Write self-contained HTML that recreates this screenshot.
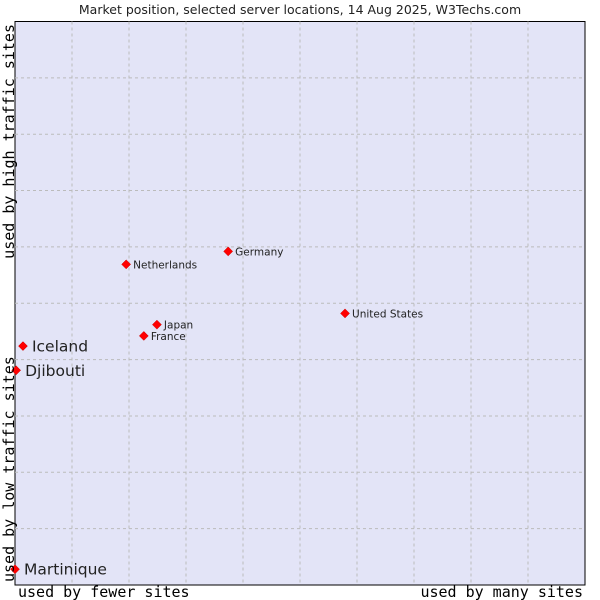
<!DOCTYPE html>
<html><head><meta charset="utf-8"><style>
html,body{margin:0;padding:0;background:#fff;width:600px;height:600px;overflow:hidden}
svg{display:block}
</style></head><body>
<svg id="chart" width="600" height="600" xmlns="http://www.w3.org/2000/svg">
<text x="300" y="14" text-anchor="middle" font-family="DejaVu Sans, sans-serif" font-size="12.5" fill="#222">Market position, selected server locations, 14 Aug 2025, W3Techs.com</text>
<rect x="15" y="21.5" width="570" height="563.5" fill="#e3e4f7" stroke="#000" stroke-width="1"/>
<g id="grid"></g>
<g id="points"></g>
<text x="18" y="597" font-family="DejaVu Sans Mono, monospace" font-size="15" fill="#000">used by fewer sites</text>
<text x="583" y="597" text-anchor="end" font-family="DejaVu Sans Mono, monospace" font-size="15" fill="#000">used by many sites</text>
<text transform="translate(14,582) rotate(-90)" font-family="DejaVu Sans Mono, monospace" font-size="15" fill="#000">used by low traffic sites</text>
<text transform="translate(14,24) rotate(-90)" text-anchor="end" font-family="DejaVu Sans Mono, monospace" font-size="15" fill="#000">used by high traffic sites</text>
</svg>
<script>
const names = ["Iceland","Djibouti","Martinique","Netherlands","Germany","Japan","France","United States"];
const xValues = [1.4,0.2,0,19.5,37.4,24.9,22.6,57.9];
const yValues = [42.4,38.1,2.8,56.9,59.2,46.2,44.2,48.2];
const bigLabel = [true,true,true,false,false,false,false,false];
const L=15,T=21.5,W=570,H=563.5;
const xs=v=>L+v/100*W, ys=v=>T+H-v/100*H;
const NS="http://www.w3.org/2000/svg";
const grid=document.getElementById('grid');
for(let i=1;i<10;i++){
  const lv=document.createElementNS(NS,'line');
  lv.setAttribute('x1',xs(i*10));lv.setAttribute('x2',xs(i*10));lv.setAttribute('y1',T);lv.setAttribute('y2',T+H);
  lv.setAttribute('stroke','#bbbbbb');lv.setAttribute('stroke-dasharray','3,3');
  
  
  grid.appendChild(lv);
  const lh=document.createElementNS(NS,'line');
  lh.setAttribute('y1',ys(i*10));lh.setAttribute('y2',ys(i*10));lh.setAttribute('x1',L);lh.setAttribute('x2',L+W);
  lh.setAttribute('stroke','#bbbbbb');lh.setAttribute('stroke-dasharray','3,3');
  
  
  grid.appendChild(lh);
}
const pts=document.getElementById('points');
names.forEach((n,i)=>{
  const x=xs(xValues[i]),y=ys(yValues[i]);
  const d=document.createElementNS(NS,'polygon');
  d.setAttribute('points',`${x},${y-4.5} ${x+4.5},${y} ${x},${y+4.5} ${x-4.5},${y}`);
  d.setAttribute('fill','#f00');d.setAttribute('stroke','#c00');d.setAttribute('stroke-width','0.5');
  
  
  pts.appendChild(d);
  const t=document.createElementNS(NS,'text');
  const big=bigLabel[i];
  t.setAttribute('x',x+(big?9:7));t.setAttribute('y',y+(big?5.5:4));
  t.setAttribute('font-family','DejaVu Sans, sans-serif');
  t.setAttribute('font-size',big?'15.5':'10.5');t.setAttribute('fill','#222');
  t.textContent=n;
  
  
  pts.appendChild(t);
});
</script>
</body></html>
